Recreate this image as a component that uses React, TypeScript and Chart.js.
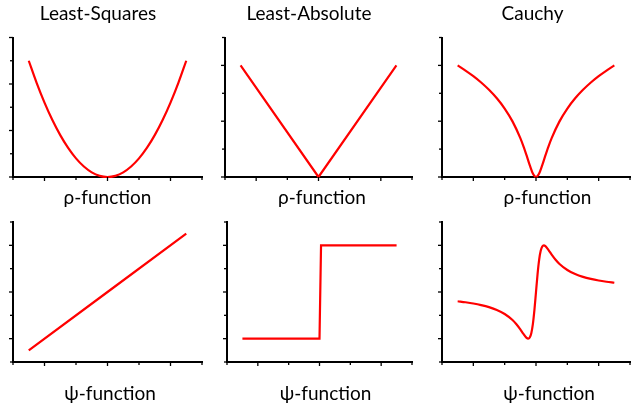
import React, { useEffect, useRef } from "react";
import { Chart, registerables } from "chart.js";

Chart.register(...registerables);

// ---- data ----
const TITLES = ["Least-Squares", "Least-Absolute", "Cauchy"];
const ROW_LABELS = ["ρ-function", "ψ-function"];

const LS_RHO_X = [-2.5, -2.25, -2, -1.75, -1.5, -1.25, -1, -0.75, -0.5, -0.25, 0, 0.25, 0.5, 0.75, 1, 1.25, 1.5, 1.75, 2, 2.25, 2.5];
const LS_RHO_Y = [5, 4.05, 3.2, 2.45, 1.8, 1.25, 0.8, 0.45, 0.2, 0.05, 0, 0.05, 0.2, 0.45, 0.8, 1.25, 1.8, 2.45, 3.2, 4.05, 5];

const LA_RHO_X = [-2.5, 0, 2.5];
const LA_RHO_Y = [2, 0, 2];

const CA_RHO_X = [-2.5, -2.25, -2, -1.75, -1.5, -1.25, -1, -0.75, -0.5, -0.4, -0.3, -0.2, -0.1, 0, 0.1, 0.2, 0.3, 0.4, 0.5, 0.75, 1, 1.25, 1.5, 1.75, 2, 2.25, 2.5];
const CA_RHO_Y = [2, 1.908, 1.808, 1.694, 1.563, 1.411, 1.227, 0.997, 0.697, 0.55, 0.386, 0.214, 0.064, 0, 0.064, 0.214, 0.386, 0.55, 0.697, 0.997, 1.227, 1.411, 1.563, 1.694, 1.808, 1.908, 2];

const LS_PSI_X = [-2.5, 0, 2.5];
const LS_PSI_Y = [-1.25, 0, 1.25];

const LA_PSI_X = [-2.5, 0, 0.05, 2.5];
const LA_PSI_Y = [-1, -1, 1, 1];

const CA_PSI_X = [-2.5, -2.25, -2, -1.75, -1.5, -1.25, -1, -0.75, -0.625, -0.5, -0.4, -0.3, -0.25, -0.2, -0.15, -0.1, -0.05, 0, 0.05, 0.1, 0.15, 0.2, 0.25, 0.3, 0.4, 0.5, 0.625, 0.75, 1, 1.25, 1.5, 1.75, 2, 2.25, 2.5];
const CA_PSI_Y = [-0.198, -0.22, -0.246, -0.28, -0.324, -0.385, -0.471, -0.6, -0.69, -0.8, -0.899, -0.984, -1, -0.976, -0.882, -0.69, -0.385, 0, 0.385, 0.69, 0.882, 0.976, 1, 0.984, 0.899, 0.8, 0.69, 0.6, 0.471, 0.385, 0.324, 0.28, 0.246, 0.22, 0.198];

const X_MIN = -3;
const X_MAX = 3;
const RHO_LS_Y_RANGE = [0, 6];
const RHO_Y_RANGE = [0, 2.5];
const PSI_Y_RANGE = [-1.5, 1.5];

const FONT = "Lato, 'Open Sans', sans-serif";
const FONT_SIZE = 19;
const RED = "#ff0000";

type PanelDef = {
  xs: number[];
  ys: number[];
  smooth: boolean;
  yRange: number[];
  yStep: number;
  yMajor: number;
  title?: string;
  label: string;
  row: number;
  left: number;
  width: number;
  yw: number;
  labelDx: number;
};

const isMul = (v: number, m: number) => {
  const r = v / m;
  return Math.abs(r - Math.round(r)) < 1e-6;
};

// minor / major tick marks on both axes
const tickMarks = {
  id: "tickMarks",
  afterDraw(chart: any, _args: any, opts: any) {
    const { ctx, chartArea, scales } = chart;
    const xs = scales.x;
    const ys = scales.y;
    ctx.save();
    ctx.strokeStyle = "#000";
    ctx.lineWidth = 1.3;
    xs.ticks.forEach((t: any) => {
      const px = xs.getPixelForValue(t.value);
      const len = isMul(t.value, opts.xMajor) ? 4 : 3;
      ctx.beginPath();
      ctx.moveTo(px, chartArea.bottom);
      ctx.lineTo(px, chartArea.bottom + len);
      ctx.stroke();
    });
    ys.ticks.forEach((t: any) => {
      const py = ys.getPixelForValue(t.value);
      const len = isMul(t.value, opts.yMajor) ? 4 : 3;
      ctx.beginPath();
      ctx.moveTo(chartArea.left, py);
      ctx.lineTo(chartArea.left - len, py);
      ctx.stroke();
    });
    ctx.restore();
  },
};

// label under the x axis, slightly offset from the plot centre as in the original
const axisLabel = {
  id: "axisLabel",
  afterDraw(chart: any, _args: any, opts: any) {
    const { ctx, chartArea } = chart;
    ctx.save();
    ctx.font = `normal ${FONT_SIZE}px ${FONT}`;
    ctx.fillStyle = "#000";
    ctx.textAlign = "center";
    ctx.textBaseline = "middle";
    ctx.fillText(opts.text, (chartArea.left + chartArea.right) / 2 + opts.dx, chartArea.bottom + opts.dy);
    ctx.restore();
  },
};

const ROW_TOP = [0, 205];
const ROW_HEIGHT = [215, 204];
const LABEL_DY = [21, 31.6];

const PANELS: PanelDef[] = [
  { xs: LS_RHO_X, ys: LS_RHO_Y, smooth: true, yRange: RHO_LS_Y_RANGE, yStep: 1, yMajor: 2, title: TITLES[0], label: ROW_LABELS[0], row: 0, left: -6, width: 212, yw: 19, labelDx: 0 },
  { xs: LA_RHO_X, ys: LA_RHO_Y, smooth: false, yRange: RHO_Y_RANGE, yStep: 0.5, yMajor: 1, title: TITLES[1], label: ROW_LABELS[0], row: 0, left: 206, width: 210, yw: 19, labelDx: 3.5 },
  { xs: CA_RHO_X, ys: CA_RHO_Y, smooth: true, yRange: RHO_Y_RANGE, yStep: 0.5, yMajor: 1, title: TITLES[2], label: ROW_LABELS[0], row: 0, left: 435, width: 199, yw: 7, labelDx: 11.5 },
  { xs: LS_PSI_X, ys: LS_PSI_Y, smooth: false, yRange: PSI_Y_RANGE, yStep: 0.5, yMajor: 1, label: ROW_LABELS[1], row: 1, left: 6, width: 200, yw: 7, labelDx: 2.5 },
  { xs: LA_PSI_X, ys: LA_PSI_Y, smooth: false, yRange: PSI_Y_RANGE, yStep: 0.5, yMajor: 1, label: ROW_LABELS[1], row: 1, left: 220, width: 196, yw: 7, labelDx: 6 },
  { xs: CA_PSI_X, ys: CA_PSI_Y, smooth: true, yRange: PSI_Y_RANGE, yStep: 0.5, yMajor: 1, label: ROW_LABELS[1], row: 1, left: 435, width: 199, yw: 7, labelDx: 13 },
];

function Panel({ p }: { p: PanelDef }) {
  const ref = useRef<HTMLCanvasElement | null>(null);
  useEffect(() => {
    if (!ref.current) return;
    const isTop = p.row === 0;
    const chart = new Chart(ref.current, {
      type: "line",
      data: {
        datasets: [
          {
            data: p.xs.map((x, i) => ({ x, y: p.ys[i] })),
            borderColor: RED,
            borderWidth: 2.2,
            pointRadius: 0,
            fill: false,
            tension: 0,
            cubicInterpolationMode: p.smooth ? "monotone" : "default",
            clip: false as any,
          } as any,
        ],
      },
      options: {
        animation: false,
        responsive: true,
        maintainAspectRatio: false,
        layout: { padding: { left: 0, right: 4, top: isTop ? 0 : 17, bottom: 0 } },
        plugins: {
          legend: { display: false },
          tooltip: { enabled: false },
          title: {
            display: !!p.title,
            text: p.title || "",
            color: "#000",
            font: { family: FONT, size: FONT_SIZE, weight: "normal" as any, lineHeight: 1.2 },
            padding: { top: 2, bottom: 12.7 },
          },
          tickMarks: { xMajor: 2, yMajor: p.yMajor },
          axisLabel: { text: p.label, dx: p.labelDx, dy: LABEL_DY[p.row] },
        } as any,
        scales: {
          x: {
            type: "linear",
            min: X_MIN,
            max: X_MAX,
            ticks: { display: false, stepSize: 1 },
            grid: { display: false },
            border: { display: true, color: "#000", width: 2 },
            afterFit: (s: any) => {
              s.height = isTop ? 38 : 47;
            },
          },
          y: {
            type: "linear",
            min: p.yRange[0],
            max: p.yRange[1],
            ticks: { display: false, stepSize: p.yStep },
            grid: { display: false },
            border: { display: true, color: "#000", width: 2 },
            afterFit: (s: any) => {
              s.width = p.yw;
            },
          },
        },
      },
      plugins: [tickMarks as any, axisLabel as any],
    });
    return () => chart.destroy();
  }, [p]);

  return (
    <div
      style={{
        position: "absolute",
        left: p.left,
        top: ROW_TOP[p.row],
        width: p.width,
        height: ROW_HEIGHT[p.row],
      }}
    >
      <canvas ref={ref} />
    </div>
  );
}

export default function App() {
  return (
    <div
      style={{
        position: "absolute",
        left: 0,
        top: 0,
        width: 638,
        height: 409,
        overflow: "hidden",
        background: "#fff",
      }}
    >
      {PANELS.map((p, i) => (
        <Panel key={i} p={p} />
      ))}
    </div>
  );
}
